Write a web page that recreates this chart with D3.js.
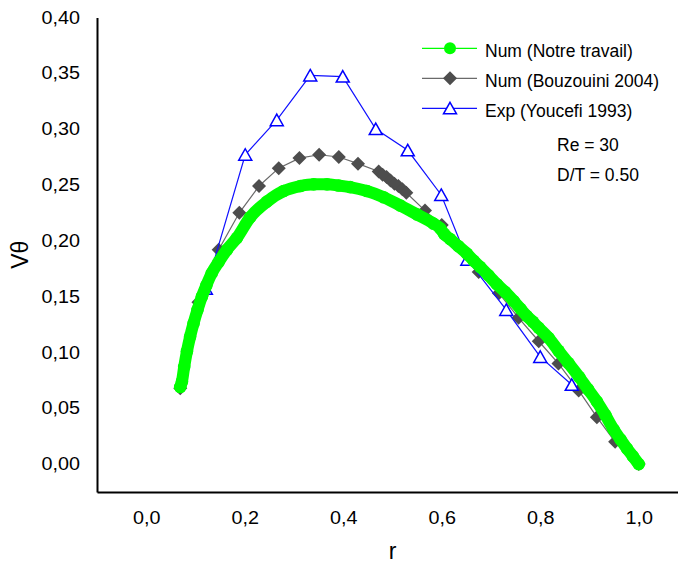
<!DOCTYPE html>
<html>
<head>
<meta charset="utf-8">
<script src="https://cdn.jsdelivr.net/npm/d3@7/dist/d3.min.js"></script>
<style>
  html, body { margin: 0; padding: 0; background: #fff; }
  svg { display: block; font-family: "Liberation Sans", Arial, sans-serif; }
</style>
</head>
<body>
<svg id="chart" width="678" height="566"></svg>
<script>
// Tangential velocity profile V-theta versus radius r

// Num (Notre travail)
const rNotre = [0.069, 0.0725, 0.077, 0.0826, 0.089, 0.096, 0.104, 0.113, 0.122, 0.133,
  0.147, 0.164, 0.184, 0.211, 0.245, 0.279, 0.313, 0.340, 0.367, 0.390,
  0.414, 0.448, 0.482, 0.516, 0.550, 0.583, 0.597, 0.605, 0.617, 0.634,
  0.651, 0.665, 0.678, 0.695, 0.712, 0.729, 0.746, 0.760, 0.773, 0.785,
  0.797, 0.817, 0.837, 0.857, 0.879, 0.897, 0.915, 0.932, 0.949, 0.963,
  0.976, 0.988, 1.000];
const vNotre = [0.069, 0.074, 0.087, 0.101, 0.114, 0.126, 0.138, 0.150, 0.160, 0.171,
  0.181, 0.192, 0.2025, 0.221, 0.235, 0.2445, 0.249, 0.2505, 0.2505, 0.2495,
  0.248, 0.2445, 0.239, 0.2315, 0.2235, 0.2155, 0.211, 0.206, 0.2015, 0.195,
  0.1885, 0.182, 0.1765, 0.169, 0.161, 0.154, 0.146, 0.139, 0.1325, 0.1275,
  0.122, 0.113, 0.1015, 0.0905, 0.078, 0.067, 0.056, 0.044, 0.031, 0.022,
  0.014, 0.007, 0.000];

// Num (Bouzouini 2004)
const rBouz = [0.069, 0.106, 0.147, 0.189, 0.229, 0.269, 0.311, 0.351, 0.391, 0.430,
  0.472, 0.480, 0.488, 0.496, 0.504, 0.512, 0.520, 0.528, 0.566, 0.600,
  0.637, 0.675, 0.716, 0.756, 0.797, 0.837, 0.878, 0.915, 0.952, 1.000];
const vBouz = [0.068, 0.145, 0.192, 0.225, 0.249, 0.265, 0.274, 0.277, 0.275, 0.269,
  0.262, 0.259, 0.257, 0.254, 0.251, 0.249, 0.246, 0.243, 0.227, 0.214,
  0.194, 0.172, 0.153, 0.131, 0.110, 0.090, 0.066, 0.042, 0.020, 0.000];

// Exp (Youcefi 1993)
const rYouc = [0.121, 0.201, 0.265, 0.333, 0.399, 0.466, 0.531, 0.599, 0.652, 0.731, 0.800, 0.864];
const vYouc = [0.157, 0.277, 0.308, 0.348, 0.347, 0.300, 0.281, 0.241, 0.183, 0.138, 0.096, 0.071];

const xTicks = [0, 0.2, 0.4, 0.6, 0.8, 1.0];
const yTicks = [0, 0.05, 0.10, 0.15, 0.20, 0.25, 0.30, 0.35, 0.40];

const legendLabels = ["Num (Notre travail)", "Num (Bouzouini 2004)", "Exp (Youcefi 1993)"];
const notes = ["Re = 30", "D/T = 0.50"];

const svg = d3.select("#chart");
svg.append("rect").attr("width", 678).attr("height", 566).attr("fill", "#fff");

const x = d3.scaleLinear().domain([-0.1, 1.1]).range([97, 688]);
const y = d3.scaleLinear().domain([-0.025, 0.40]).range([492, 17.4]);

const loc = d3.formatLocale({ decimal: ",", thousands: " ", grouping: [3], currency: ["", ""] });
const fx = loc.format(".1f");
const fy = loc.format(".2f");

// axes: only the left and bottom lines, no tick marks
const tickWiden = 1.13;
const gx = svg.append("g")
  .attr("transform", `translate(0,${y(-0.025)})`)
  .call(d3.axisBottom(x).tickValues(xTicks).tickFormat(fx).tickSize(0).tickSizeOuter(0).tickPadding(20));
const gy = svg.append("g")
  .attr("transform", `translate(${x(-0.1)},0)`)
  .call(d3.axisLeft(y).tickValues(yTicks).tickFormat(fy).tickSize(0).tickSizeOuter(0).tickPadding(17 / tickWiden));
[gx, gy].forEach(g => {
  g.select(".domain").attr("stroke", "#000").attr("stroke-width", 2);
  g.selectAll("text").attr("font-size", 17.5).attr("fill", "#000")
    .attr("font-family", "'Liberation Sans', Arial, sans-serif")
    .attr("transform", `scale(${tickWiden},1)`);
});

// axis titles
svg.append("text")
  .attr("transform", `translate(28,${(y(0.40) + y(-0.025)) / 2}) rotate(-90)`)
  .attr("text-anchor", "middle")
  .attr("font-size", 23)
  .text("Vθ");
svg.append("text")
  .attr("x", (x(-0.1) + 688) / 2)
  .attr("y", 559)
  .attr("text-anchor", "middle")
  .attr("font-size", 23)
  .text("r");

const triPath = "M0,-6L6.5,5.5L-6.5,5.5Z";
const diaPath = "M0,-7L7,0L0,7L-7,0Z";

const bouz = rBouz.map((r, i) => [r, vBouz[i]]);
const youc = rYouc.map((r, i) => [r, vYouc[i]]);
const notre = rNotre.map((r, i) => [r, vNotre[i]]);

const line = d3.line().x(d => x(d[0])).y(d => y(d[1]));

// Bouzouini 2004: grey line with dark diamonds
svg.append("path").datum(bouz).attr("d", line)
  .attr("fill", "none").attr("stroke", "#6a6a6a").attr("stroke-width", 1.2);
svg.append("g").selectAll("path").data(bouz).join("path")
  .attr("d", diaPath)
  .attr("transform", d => `translate(${x(d[0])},${y(d[1])})`)
  .attr("fill", "#4d4d4d");

// Youcefi 1993: blue line with open triangles
svg.append("path").datum(youc).attr("d", line)
  .attr("fill", "none").attr("stroke", "#1010ff").attr("stroke-width", 1.2);
svg.append("g").selectAll("path").data(youc).join("path")
  .attr("d", triPath)
  .attr("transform", d => `translate(${x(d[0])},${y(d[1])})`)
  .attr("fill", "#fff").attr("stroke", "#0000ff").attr("stroke-width", 1.5);

// Notre travail: dense green circles along the profile
svg.append("path").datum(notre)
  .attr("d", d3.line().x(d => x(d[0])).y(d => y(d[1])).curve(d3.curveMonotoneX))
  .attr("fill", "none").attr("stroke", "#00ff00").attr("stroke-width", 12)
  .attr("stroke-linecap", "round").attr("stroke-linejoin", "round");
svg.append("g").selectAll("circle").data(notre).join("circle")
  .attr("cx", d => x(d[0])).attr("cy", d => y(d[1])).attr("r", 6.3)
  .attr("fill", "#00ff00");

// legend
const legend = svg.append("g");
const rowsY = [48.3, 78.3, 108.3];
const lineColors = ["#00ff00", "#6a6a6a", "#1010ff"];
legendLabels.forEach((lab, i) => {
  const ry = rowsY[i];
  legend.append("line").attr("x1", 422).attr("x2", 477).attr("y1", ry).attr("y2", ry)
    .attr("stroke", lineColors[i]).attr("stroke-width", 1.2);
  if (i === 0) {
    legend.append("circle").attr("cx", 450).attr("cy", ry).attr("r", 6).attr("fill", "#00ff00");
  } else if (i === 1) {
    legend.append("path").attr("d", diaPath).attr("transform", `translate(450,${ry})`).attr("fill", "#4d4d4d");
  } else {
    legend.append("path").attr("d", triPath).attr("transform", `translate(450,${ry})`)
      .attr("fill", "#fff").attr("stroke", "#0000ff").attr("stroke-width", 1.5);
  }
  legend.append("text").attr("x", 485).attr("y", ry + 9).attr("font-size", 17.5).text(lab);
});
notes.forEach((t, i) => {
  svg.append("text").attr("x", 557).attr("y", 151 + i * 29.5).attr("font-size", 17.5).text(t);
});
</script>
</body>
</html>
